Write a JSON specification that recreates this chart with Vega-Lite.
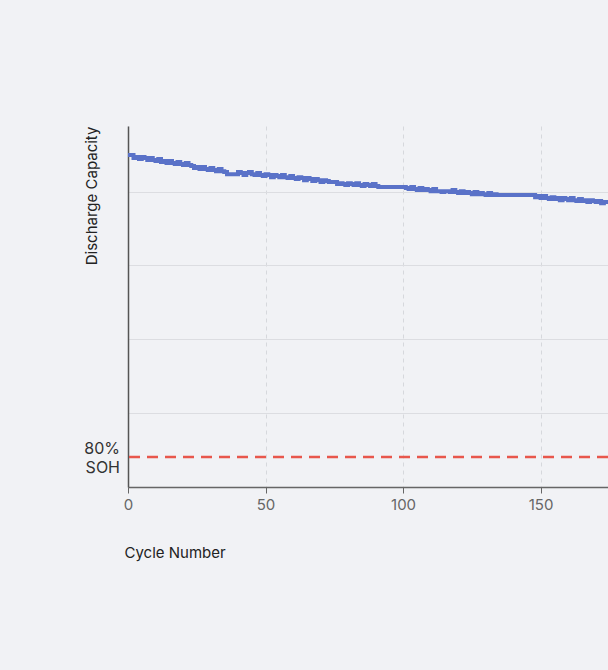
{
  "$schema": "https://vega.github.io/schema/vega-lite/v6.json",
  "autosize": {"type": "none"},
  "padding": {"left": 128, "top": 126, "right": 0, "bottom": 183},
  "width": 480,
  "height": 361,
  "background": "#f1f2f5",
  "config": {
    "view": {"stroke": null},
    "font": "Inter",
    "axis": {"labelFont": "Inter", "titleFont": "Inter"}
  },
  "datasets": {
    "series": [
      {"cycle":0,"capacity":1.0007},{"cycle":1,"capacity":1.0007},{"cycle":2,"capacity":0.9987},{"cycle":3,"capacity":0.9994},{"cycle":4,"capacity":0.998},
      {"cycle":5,"capacity":0.9994},{"cycle":6,"capacity":0.9987},{"cycle":7,"capacity":0.9974},{"cycle":8,"capacity":0.9987},{"cycle":9,"capacity":0.9974},
      {"cycle":10,"capacity":0.9967},{"cycle":11,"capacity":0.998},{"cycle":12,"capacity":0.996},{"cycle":13,"capacity":0.9967},{"cycle":14,"capacity":0.9954},
      {"cycle":15,"capacity":0.9967},{"cycle":16,"capacity":0.9954},{"cycle":17,"capacity":0.9947},{"cycle":18,"capacity":0.996},{"cycle":19,"capacity":0.9947},
      {"cycle":20,"capacity":0.994},{"cycle":21,"capacity":0.9954},{"cycle":22,"capacity":0.994},{"cycle":23,"capacity":0.9934},{"cycle":24,"capacity":0.992},
      {"cycle":25,"capacity":0.9927},{"cycle":26,"capacity":0.9914},{"cycle":27,"capacity":0.9927},{"cycle":28,"capacity":0.9914},{"cycle":29,"capacity":0.9907},
      {"cycle":30,"capacity":0.992},{"cycle":31,"capacity":0.9907},{"cycle":32,"capacity":0.99},{"cycle":33,"capacity":0.9914},{"cycle":34,"capacity":0.99},
      {"cycle":35,"capacity":0.9894},{"cycle":36,"capacity":0.988},{"cycle":37,"capacity":0.988},{"cycle":38,"capacity":0.988},{"cycle":39,"capacity":0.988},
      {"cycle":40,"capacity":0.9894},{"cycle":41,"capacity":0.9887},{"cycle":42,"capacity":0.9874},{"cycle":43,"capacity":0.9887},{"cycle":44,"capacity":0.9894},
      {"cycle":45,"capacity":0.988},{"cycle":46,"capacity":0.9874},{"cycle":47,"capacity":0.9887},{"cycle":48,"capacity":0.9874},{"cycle":49,"capacity":0.9867},
      {"cycle":50,"capacity":0.988},{"cycle":51,"capacity":0.9874},{"cycle":52,"capacity":0.986},{"cycle":53,"capacity":0.9874},{"cycle":54,"capacity":0.9867},
      {"cycle":55,"capacity":0.986},{"cycle":56,"capacity":0.9874},{"cycle":57,"capacity":0.986},{"cycle":58,"capacity":0.9854},{"cycle":59,"capacity":0.9867},
      {"cycle":60,"capacity":0.9854},{"cycle":61,"capacity":0.9847},{"cycle":62,"capacity":0.986},{"cycle":63,"capacity":0.9854},{"cycle":64,"capacity":0.984},
      {"cycle":65,"capacity":0.9854},{"cycle":66,"capacity":0.9847},{"cycle":67,"capacity":0.9834},{"cycle":68,"capacity":0.9847},{"cycle":69,"capacity":0.984},
      {"cycle":70,"capacity":0.9827},{"cycle":71,"capacity":0.984},{"cycle":72,"capacity":0.9834},{"cycle":73,"capacity":0.9827},{"cycle":74,"capacity":0.9827},
      {"cycle":75,"capacity":0.9827},{"cycle":76,"capacity":0.9814},{"cycle":77,"capacity":0.982},{"cycle":78,"capacity":0.9814},{"cycle":79,"capacity":0.9807},
      {"cycle":80,"capacity":0.982},{"cycle":81,"capacity":0.9814},{"cycle":82,"capacity":0.9807},{"cycle":83,"capacity":0.982},{"cycle":84,"capacity":0.9807},
      {"cycle":85,"capacity":0.9801},{"cycle":86,"capacity":0.9814},{"cycle":87,"capacity":0.9807},{"cycle":88,"capacity":0.9801},{"cycle":89,"capacity":0.9814},
      {"cycle":90,"capacity":0.9801},{"cycle":91,"capacity":0.9794},{"cycle":92,"capacity":0.9794},{"cycle":93,"capacity":0.9794},{"cycle":94,"capacity":0.9794},
      {"cycle":95,"capacity":0.9794},{"cycle":96,"capacity":0.9794},{"cycle":97,"capacity":0.9794},{"cycle":98,"capacity":0.9794},{"cycle":99,"capacity":0.9794},
      {"cycle":100,"capacity":0.9794},{"cycle":101,"capacity":0.9787},{"cycle":102,"capacity":0.9781},{"cycle":103,"capacity":0.9794},{"cycle":104,"capacity":0.9781},
      {"cycle":105,"capacity":0.9774},{"cycle":106,"capacity":0.9787},{"cycle":107,"capacity":0.9774},{"cycle":108,"capacity":0.9781},{"cycle":109,"capacity":0.9774},
      {"cycle":110,"capacity":0.9767},{"cycle":111,"capacity":0.9781},{"cycle":112,"capacity":0.9767},{"cycle":113,"capacity":0.9767},{"cycle":114,"capacity":0.9761},
      {"cycle":115,"capacity":0.9767},{"cycle":116,"capacity":0.9767},{"cycle":117,"capacity":0.9761},{"cycle":118,"capacity":0.9774},{"cycle":119,"capacity":0.9761},
      {"cycle":120,"capacity":0.9754},{"cycle":121,"capacity":0.9767},{"cycle":122,"capacity":0.9754},{"cycle":123,"capacity":0.9761},{"cycle":124,"capacity":0.9754},
      {"cycle":125,"capacity":0.9747},{"cycle":126,"capacity":0.9761},{"cycle":127,"capacity":0.9747},{"cycle":128,"capacity":0.9754},{"cycle":129,"capacity":0.9747},
      {"cycle":130,"capacity":0.9741},{"cycle":131,"capacity":0.9754},{"cycle":132,"capacity":0.9741},{"cycle":133,"capacity":0.9747},{"cycle":134,"capacity":0.9741},
      {"cycle":135,"capacity":0.9741},{"cycle":136,"capacity":0.9741},{"cycle":137,"capacity":0.9741},{"cycle":138,"capacity":0.9741},{"cycle":139,"capacity":0.9741},
      {"cycle":140,"capacity":0.9741},{"cycle":141,"capacity":0.9741},{"cycle":142,"capacity":0.9741},{"cycle":143,"capacity":0.9741},{"cycle":144,"capacity":0.9741},
      {"cycle":145,"capacity":0.9741},{"cycle":146,"capacity":0.9741},{"cycle":147,"capacity":0.9741},{"cycle":148,"capacity":0.9727},{"cycle":149,"capacity":0.9734},
      {"cycle":150,"capacity":0.9721},{"cycle":151,"capacity":0.9734},{"cycle":152,"capacity":0.9721},{"cycle":153,"capacity":0.9714},{"cycle":154,"capacity":0.9727},
      {"cycle":155,"capacity":0.9714},{"cycle":156,"capacity":0.9721},{"cycle":157,"capacity":0.9707},{"cycle":158,"capacity":0.9721},{"cycle":159,"capacity":0.9714},
      {"cycle":160,"capacity":0.9707},{"cycle":161,"capacity":0.9721},{"cycle":162,"capacity":0.9707},{"cycle":163,"capacity":0.9701},{"cycle":164,"capacity":0.9714},
      {"cycle":165,"capacity":0.9701},{"cycle":166,"capacity":0.9707},{"cycle":167,"capacity":0.9694},{"cycle":168,"capacity":0.9707},{"cycle":169,"capacity":0.9701},
      {"cycle":170,"capacity":0.9694},{"cycle":171,"capacity":0.9701},{"cycle":172,"capacity":0.9687},{"cycle":173,"capacity":0.9694},{"cycle":174,"capacity":0.9694},
      {"cycle":175,"capacity":0.9687}
    ],
    "threshold": [{"cycle": 0, "capacity": 0.8, "label": "80%\nSOH"}]
  },
  "layer": [
    {
      "data": {"name": "series"},
      "mark": {"type": "line", "interpolate": "step-after", "color": "#5a72c8", "strokeWidth": 4, "clip": true},
      "encoding": {
        "x": {
          "field": "cycle", "type": "quantitative",
          "scale": {"domain": [0, 174.5], "nice": false, "zero": false},
          "axis": {
            "values": [0, 50, 100, 150],
            "title": "Cycle Number",
            "titleFontSize": 15, "titleFontWeight": "normal", "titleColor": "#222222",
            "titleAnchor": "start", "titleAlign": "left", "titleX": -4, "titleY": 65, "titleBaseline": "middle",
            "labelFontSize": 15, "labelColor": "#666666", "labelPadding": 4, "labelFlush": false,
            "tickSize": 6, "tickColor": "#666666", "tickWidth": 1,
            "domainColor": "#666666", "domainWidth": 1.5,
            "grid": true, "gridDash": [4, 4], "gridColor": "#d6d8dc", "gridWidth": 1
          }
        },
        "y": {
          "field": "capacity", "type": "quantitative",
          "scale": {"domain": [0.78, 1.02], "nice": false, "zero": false},
          "axis": {
            "values": [0.8292, 0.8784, 0.9276, 0.9761],
            "labels": false, "ticks": false,
            "title": "Discharge Capacity",
            "titleFontSize": 15, "titleFontWeight": "normal", "titleColor": "#222222",
            "titleAnchor": "end", "titleAngle": -90, "titleX": -29, "titleY": 0, "titleAlign": "right", "titleBaseline": "bottom",
            "domainColor": "#555555", "domainWidth": 1.5,
            "grid": true, "gridColor": "#dcdde1", "gridWidth": 1
          }
        }
      }
    },
    {
      "data": {"name": "threshold"},
      "mark": {"type": "rule", "color": "#e8574c", "strokeWidth": 2.5, "strokeDash": [11, 7]},
      "encoding": {
        "y": {"field": "capacity", "type": "quantitative"}
      }
    },
    {
      "data": {"name": "threshold"},
      "mark": {"type": "text", "align": "right", "baseline": "middle", "dx": -8, "dy": -8, "fontSize": 16, "color": "#333333", "lineBreak": "\n", "lineHeight": 19, "font": "Inter"},
      "encoding": {
        "x": {"field": "cycle", "type": "quantitative"},
        "y": {"field": "capacity", "type": "quantitative"},
        "text": {"field": "label"}
      }
    }
  ]
}
